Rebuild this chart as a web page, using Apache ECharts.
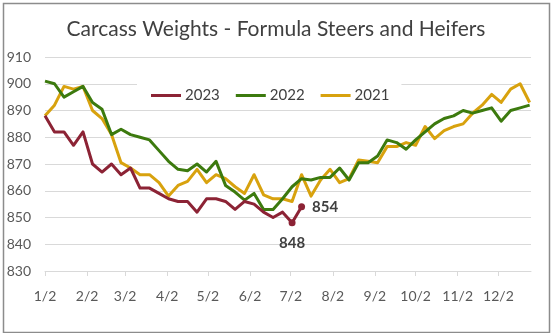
<!DOCTYPE html>
<html>
<head>
<meta charset="utf-8">
<script src="https://cdn.jsdelivr.net/npm/echarts@6/dist/echarts.min.js"></script>
<style>
  html, body { margin: 0; padding: 0; background: #fff; }
  #chart { width: 552px; height: 333px; }
</style>
</head>
<body>
<div id="chart"></div>
<script>
// Weekly average carcass weights (lbs), formula steers and heifers.
// Week index 0 falls on Jan 2; each step is 7 days.
const seriesNames = ['2023', '2022', '2021'];

const weights2023 = [
  888, 882, 882, 877, 882, 870, 867, 870, 866, 868.5,
  861, 861, 859, 857, 856, 856, 852, 857, 857, 856,
  853, 856, 855, 852, 850, 852, 848, 854
];

const weights2022 = [
  901, 900, 895, 897, 899, 893, 890.5, 881, 883, 881,
  880, 879, 875, 871, 868, 867.5, 870, 867, 871, 862,
  859.5, 856.5, 859, 853, 853, 857, 861.5, 864.5, 864, 865,
  865, 868.5, 864, 870.5, 870.5, 873, 879, 878, 875.5, 879,
  882, 885, 887, 888, 890, 889, 890, 891, 886, 890,
  891, 892
];

const weights2021 = [
  888, 892, 899, 898, 899, 890, 887, 881, 870.5, 868.5,
  866, 866, 863, 858, 862, 863.5, 868, 863, 866, 864.5,
  861.5, 859, 866, 858.5, 857, 857, 856, 866, 858, 864,
  868, 863, 864.5, 871.5, 871, 870.5, 876.5, 876.5, 878, 877,
  884, 879.5, 882.5, 884, 885, 889, 892, 896, 893, 898,
  900, 893
];

// Month tick labels (month/day) on the date axis
const tickLabels = ['1/2', '2/2', '3/2', '4/2', '5/2', '6/2', '7/2', '8/2', '9/2', '10/2', '11/2', '12/2'];

const yTicks = { min: 830, max: 910, step: 10 };

// Days elapsed since Jan 2 for each month tick
const DAY = 86400000;
const tickDays = tickLabels.map(function (t) {
  const parts = t.split('/');
  return Math.round((Date.UTC(2023, +parts[0] - 1, +parts[1]) - Date.UTC(2023, 0, 2)) / DAY);
});
const dayToLabel = {};
tickDays.forEach(function (d, i) { dayToLabel[d] = tickLabels[i]; });

function toPoints(values) {
  return values.map(function (v, i) { return [i * 7, v]; });
}

const colors = ['#8C2335', '#3C7A0E', '#D8A20E'];
const textColor = '#404040';
const fontFamily = 'Lato, "Open Sans", sans-serif';

// Highlight the two most recent 2023 weeks with dots and value labels
const data2023 = toPoints(weights2023).map(function (p, i, arr) {
  if (i === arr.length - 2) {
    return {
      value: p, symbolSize: 7,
      label: { show: true, position: 'bottom', distance: 9 }
    };
  }
  if (i === arr.length - 1) {
    return {
      value: p, symbolSize: 7,
      label: { show: true, position: 'right', distance: 7 }
    };
  }
  return { value: p, symbolSize: 0 };
});

const chart = echarts.init(document.getElementById('chart'), null, { renderer: 'canvas' });

chart.setOption({
  animation: false,
  backgroundColor: '#fff',
  color: colors,
  textStyle: { fontFamily: fontFamily },
  title: {
    text: 'Carcass Weights - Formula Steers and Heifers',
    left: 'center',
    top: 14,
    textStyle: { fontFamily: fontFamily, fontSize: 21, fontWeight: 'normal', color: textColor }
  },
  legend: {
    data: seriesNames,
    top: 81,
    left: 137,
    padding: [7, 12, 7, 14],
    backgroundColor: '#fff',
    itemWidth: 30,
    itemHeight: 3,
    itemGap: 16,
    icon: 'rect',
    textStyle: { fontFamily: fontFamily, fontSize: 15, color: textColor, padding: [0, 0, 0, -1] }
  },
  grid: { left: 45, right: 21, top: 57, bottom: 62, containLabel: false },
  xAxis: {
    type: 'value',
    min: 0,
    max: 358,
    splitLine: { show: false },
    axisLine: { show: true, onZero: false, lineStyle: { color: '#D9D9D9', width: 1 } },
    axisTick: {
      show: true, length: 5, customValues: tickDays,
      lineStyle: { color: '#D9D9D9' }
    },
    axisLabel: {
      customValues: tickDays,
      margin: 18,
      fontSize: 14,
      fontFamily: fontFamily,
      color: '#595959',
      formatter: function (v) { return dayToLabel[v] || ''; }
    }
  },
  yAxis: {
    type: 'value',
    min: yTicks.min,
    max: yTicks.max,
    interval: yTicks.step,
    axisLine: { show: false },
    axisTick: { show: false },
    splitLine: { lineStyle: { color: '#D9D9D9', width: 1 } },
    axisLabel: { margin: 14, fontSize: 14, fontFamily: fontFamily, color: '#595959' }
  },
  series: [
    {
      name: '2023',
      type: 'line',
      data: data2023,
      symbol: 'circle',
      showSymbol: true,
      lineStyle: { width: 3, color: colors[0], join: 'round' },
      itemStyle: { color: colors[0] },
      label: {
        show: false,
        fontFamily: fontFamily,
        fontSize: 15,
        fontWeight: 'bold',
        color: textColor,
        formatter: function (p) { return p.value[1]; }
      },
      z: 5
    },
    {
      name: '2022',
      type: 'line',
      data: toPoints(weights2022),
      showSymbol: false,
      symbol: 'none',
      lineStyle: { width: 3, color: colors[1], join: 'round' },
      itemStyle: { color: colors[1] },
      z: 4
    },
    {
      name: '2021',
      type: 'line',
      data: toPoints(weights2021),
      showSymbol: false,
      symbol: 'none',
      lineStyle: { width: 3, color: colors[2], join: 'round' },
      itemStyle: { color: colors[2] },
      z: 3
    }
  ],
  graphic: [
    {
      type: 'rect',
      left: 1, top: 1,
      shape: { width: 546, height: 329 },
      style: { fill: 'none', stroke: '#8C8C8C', lineWidth: 1.5 },
      silent: true
    }
  ]
});
</script>
</body>
</html>
